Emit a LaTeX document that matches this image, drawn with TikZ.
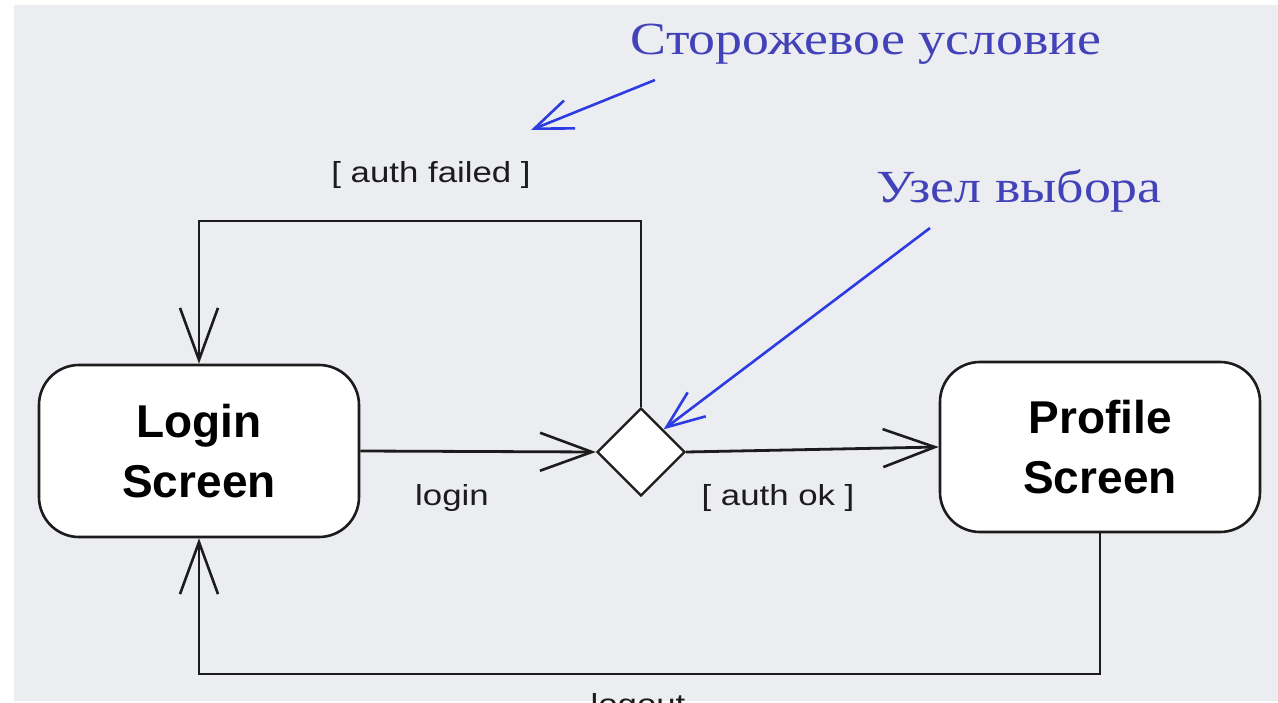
\documentclass[tikz,border=0pt]{standalone}
\usepackage{fontspec}
\setmainfont{Liberation Sans}
\newfontfamily\boxfont{Liberation Sans}
\newfontfamily\lblfont[FakeStretch=1.2]{Liberation Sans}
\newfontfamily\bluefont[FakeStretch=1.17]{Liberation Serif}
\usetikzlibrary{arrows.meta,shapes.geometric}
\definecolor{bg}{RGB}{236,237,241}
\definecolor{annot}{RGB}{66,66,185}
\definecolor{annotline}{RGB}{45,60,225}
\definecolor{ink}{RGB}{28,28,28}
\begin{document}
\begin{tikzpicture}[x=1pt,y=-1pt,
  state/.style={draw=ink, line width=2.6pt, fill=white, rounded corners=40pt,
    minimum width=320pt, minimum height=172pt, align=center, inner sep=0pt,
    font=\boxfont\fontsize{46}{60}\selectfont\bfseries},
  choice/.style={diamond, draw=ink, line width=2.4pt, fill=white, inner sep=0pt,
    minimum width=88pt, minimum height=88pt},
  conn/.style={draw=ink, line width=2.8pt},
  arr/.style={-{Straight Barb[length=52pt,width=38pt,line width=2.6pt]}},
  lbl/.style={font=\lblfont\fontsize{29}{32}\selectfont, text=ink, inner sep=0pt},
  note/.style={font=\bluefont\fontsize{46}{50}\selectfont, text=annot, inner sep=0pt},
  notearr/.style={draw=annotline, line width=2.6pt,
    -{Straight Barb[length=38pt,width=30pt,line width=2.6pt]}}
]
\useasboundingbox (0,0) rectangle (1278,703);
\clip (0,0) rectangle (1278,703);
\fill[white] (0,0) rectangle (1278,703);
\fill[bg] (14,5) rectangle (1278,701);

% nodes
\node[state] (l) at (199,451) {Login\\Screen};
\node[state, minimum height=170pt] (p) at (1100,447) {Profile\\Screen};
\node[choice] (d) at (641,452) {};

\coordinate (top) at (641,221);
\coordinate (bot) at (641,674);

% connectors
\draw[conn, arr] (l.east) -- (d.west);
\draw[conn, arr] (d.east) -- (p.west);
\draw[conn, arr] (d.north) -- (d.north |- top) -| (l.north);
\draw[conn, arr] (p.south) -- (p.south |- bot) -| (l.south);

% labels
\node[lbl, anchor=base] (af) at (431,183) {[ auth failed ]};
\node[lbl, anchor=base] (lg) at (452,505) {login};
\node[lbl, anchor=base] (ok) at (778,505) {[ auth ok ]};
\node[lbl, anchor=base] (lo) at (638,714) {logout};

% annotations
\node[note, anchor=base] (t1) at (866,55) {Сторожевое условие};
\node[note, anchor=base] (t2) at (1019,203) {Узел выбора};
\coordinate (s1) at (655,80);
\coordinate (e1) at (531,130);
\coordinate (s2) at (930,228);
\draw[notearr] (s1) -- (e1);
\draw[notearr] (s2) -- (d.north east);
\end{tikzpicture}
\end{document}
